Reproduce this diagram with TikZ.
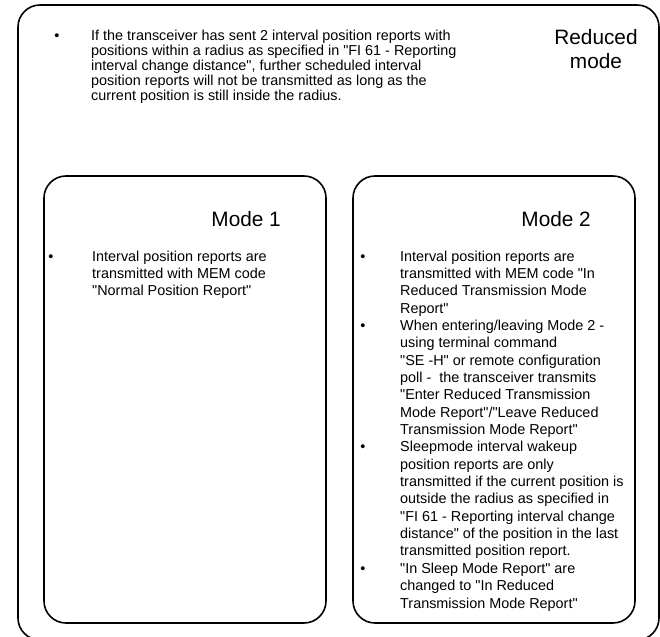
\documentclass[tikz,border=0pt]{standalone}
\usepackage{fontspec}
\setmainfont{Liberation Sans}[Ligatures=TeXOff]
\begin{document}
\begin{tikzpicture}[x=1pt,y=-1pt,
  box/.style={draw, rounded corners=22pt, line width=1.6pt, inner sep=0pt, outer sep=0pt},
  body/.style={anchor=base west, inner sep=0pt, font=\fontsize{14.4}{17.35}\selectfont},
  bul/.style={anchor=base, inner sep=0pt, font=\fontsize{14.4}{17.35}\selectfont},
  title/.style={inner sep=0pt, font=\fontsize{20.8}{24}\selectfont}]
\useasboundingbox (0,0) rectangle (660,636);
% boxes
\node[box, minimum width=641pt, minimum height=635pt] (outer) at (338.5,322.5) {};
\node[box, minimum width=282pt, minimum height=447pt] (mode1) at (185,399.5) {};
\node[box, minimum width=282pt, minimum height=447pt] (mode2) at (494,399.5) {};
% titles
\node[title, anchor=base] (rtitle) at (596,45) {\parbox[t]{120pt}{\centering Reduced\\mode}};
\node[title, anchor=base east] (m1title) at (281,226) {Mode 1};
\node[title, anchor=base east] (m2title) at (591,226) {Mode 2};
% top text
\node[bul] (tb1) at (57,41) {•};
\node[body] (tt1) at (91,41) {\parbox[t]{420pt}{\fontsize{14.4}{14.8}\selectfont
If the transceiver has sent 2 interval position reports with\\
positions within a radius as specified in "FI 61 - Reporting\\
interval change distance", further scheduled interval\\
position reports will not be transmitted as long as the\\
current position is still inside the radius.}};
% mode 1 text
\node[bul] (ab1) at (51,261) {•};
\node[body] (at1) at (92,261) {\parbox[t]{230pt}{
Interval position reports are\\
transmitted with MEM code\\
"Normal Position Report"}};
% mode 2 text
\node[bul] (bb1) at (363,261) {•};
\node[body] (bt1) at (400,261) {\parbox[t]{235pt}{
Interval position reports are\\
transmitted with MEM code "In\\
Reduced Transmission Mode\\
Report"}};
\node[bul] (bb2) at (363,330.4) {•};
\node[body] (bt2) at (400,330.4) {\parbox[t]{235pt}{
When entering/leaving Mode 2 -\\
using terminal command\\
"SE -H" or remote configuration\\
poll -\ \ the transceiver transmits\\
"Enter Reduced Transmission\\
Mode Report"/"Leave Reduced\\
Transmission Mode Report"}};
\node[bul] (bb3) at (363,451.85) {•};
\node[body] (bt3) at (400,451.85) {\parbox[t]{235pt}{
Sleepmode interval wakeup\\
position reports are only\\
transmitted if the current position is\\
outside the radius as specified in\\
"FI 61 - Reporting interval change\\
distance" of the position in the last\\
transmitted position report.}};
\node[bul] (bb4) at (363,573.3) {•};
\node[body] (bt4) at (400,573.3) {\parbox[t]{235pt}{
"In Sleep Mode Report" are\\
changed to "In Reduced\\
Transmission Mode Report"}};
\end{tikzpicture}
\end{document}
